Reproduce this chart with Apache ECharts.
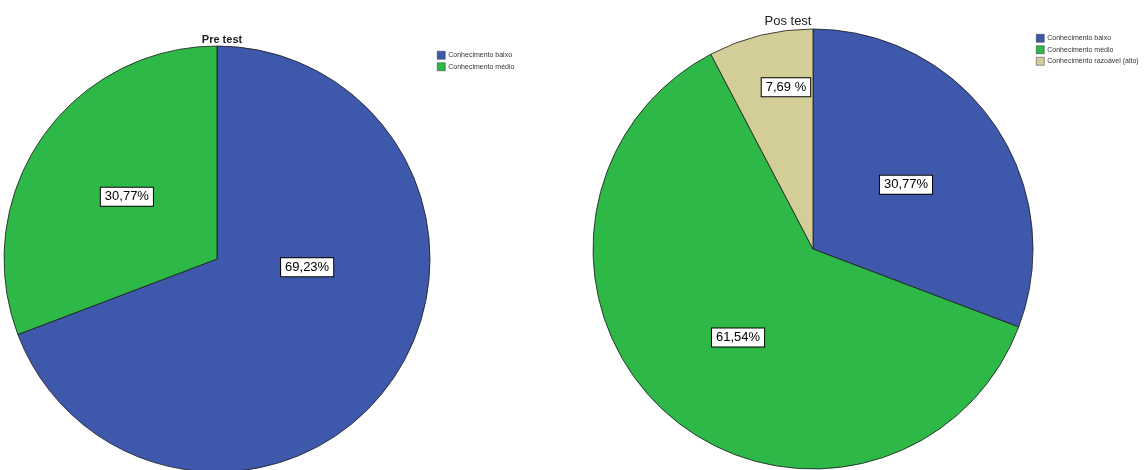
<!DOCTYPE html>
<html>
<head>
<meta charset="utf-8">
<title>Pre test / Pos test</title>
<script src="https://cdn.jsdelivr.net/npm/echarts@6/dist/echarts.min.js"></script>
<style>
  html, body { margin: 0; padding: 0; background: #fff; }
  #chart { width: 1146px; height: 470px; }
</style>
</head>
<body>
<div id="chart"></div>
<script>
// Category names and percentages for each test
const preCategories = ['Conhecimento baixo', 'Conhecimento médio'];
const preValues = [69.23, 30.77];
const preLabels = ['69,23%', '30,77%'];

const posCategories = ['Conhecimento baixo', 'Conhecimento médio', 'Conhecimento razoável (alto)'];
const posValues = [30.77, 61.54, 7.69];
const posLabels = ['30,77%', '61,54%', '7,69 %'];

const sliceColors = ['#3E58AC', '#2EB848', '#D3CE97'];

// vertical nudges for inside labels (by slice index)
const preLabelShift = [-54, 0];
const posLabelShift = [0, 4, -52];

function buildData(names, values) {
  return names.map((n, i) => ({ name: n, value: values[i], itemStyle: { color: sliceColors[i] } }));
}

const labelStyle = {
  show: true,
  position: 'inside',
  color: '#000',
  fontFamily: 'Liberation Sans, Arial, sans-serif',
  fontSize: 13,
  backgroundColor: '#fff',
  borderColor: '#000',
  borderWidth: 1,
  padding: [3, 4, 2, 4]
};

const chart = echarts.init(document.getElementById('chart'), null, { renderer: 'canvas' });

chart.setOption({
  animation: false,
  color: sliceColors,
  title: [
    { text: 'Pre test', left: 217, top: 29, textAlign: 'center',
      textStyle: { fontSize: 11, fontWeight: 'bold', color: '#222', fontFamily: 'Liberation Sans, Arial, sans-serif' } },
    { text: 'Pos test', left: 783, top: 10, textAlign: 'center',
      textStyle: { fontSize: 13, fontWeight: 'normal', color: '#222', fontFamily: 'Liberation Sans, Arial, sans-serif' } }
  ],
  legend: [
    { data: preCategories, orient: 'vertical', left: 432, top: 46, itemWidth: 8, itemHeight: 8, itemGap: 3,
      icon: 'rect', selectedMode: false,
      itemStyle: { borderColor: '#333', borderWidth: 0.5 },
      textStyle: { fontSize: 7, color: '#333', padding: [0, 0, 0, -2] } },
    { data: posCategories, orient: 'vertical', left: 1031, top: 29, itemWidth: 8, itemHeight: 8, itemGap: 3,
      icon: 'rect', selectedMode: false,
      itemStyle: { borderColor: '#333', borderWidth: 0.5 },
      textStyle: { fontSize: 7, color: '#333', padding: [0, 0, 0, -2] } }
  ],
  series: [
    {
      type: 'pie',
      name: 'Pre test',
      center: [217, 259],
      radius: 213,
      startAngle: 90,
      clockwise: true,
      silent: true,
      itemStyle: { borderColor: '#1a1a1a', borderWidth: 0.8 },
      label: Object.assign({}, labelStyle, {
        formatter: p => preLabels[p.dataIndex]
      }),
      labelLine: { show: false },
      labelLayout: p => ({ dy: preLabelShift[p.dataIndex] }),
      data: buildData(preCategories, preValues)
    },
    {
      type: 'pie',
      name: 'Pos test',
      center: [813, 249],
      radius: 220,
      startAngle: 90,
      clockwise: true,
      silent: true,
      itemStyle: { borderColor: '#1a1a1a', borderWidth: 0.8 },
      label: Object.assign({}, labelStyle, {
        formatter: p => posLabels[p.dataIndex]
      }),
      labelLine: { show: false },
      labelLayout: p => ({ dy: posLabelShift[p.dataIndex] }),
      data: buildData(posCategories, posValues)
    }
  ]
});
</script>
</body>
</html>
